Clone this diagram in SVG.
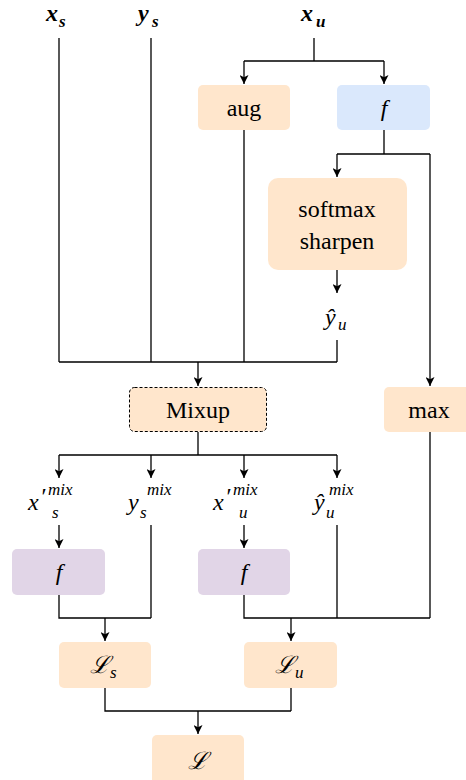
<svg xmlns="http://www.w3.org/2000/svg" width="466" height="780" viewBox="0 0 466 780">
<style>
.bx{stroke:none}
.o{fill:#ffe6cc}
.b{fill:#dae8fc}
.p{fill:#e1d5e7}
.d{stroke:#000;stroke-width:1;stroke-dasharray:3 2}
.c{text-anchor:middle}
.i{font-style:italic}
.bi{font-style:italic;font-weight:bold}
.sm{font-size:17px}
.e{stroke:#000;stroke-width:1.3;fill:none}
.a{marker-end:url(#ah)}
</style>
<defs>
<marker id="ah" viewBox="0 0 10 10" refX="10" refY="5" markerWidth="9" markerHeight="9" markerUnits="userSpaceOnUse" orient="auto">
<path d="M0 0 L10 5 L0 10 L2.5 5 Z" fill="#000"/>
</marker>
</defs>
<g id="connectors">
<path class="e" d="M59 38 V362 M151 38 V362 M244 130 V362 M337 340 V362 M59 362 H337"/>
<path class="e a" d="M198 362 V386"/>
<path class="e" d="M314 38 V61 M244 61 H384"/>
<path class="e a" d="M244 61 V84"/>
<path class="e a" d="M384 61 V84"/>
<path class="e" d="M384 130 V154 M337 154 H430"/>
<path class="e a" d="M337 154 V177"/>
<path class="e a" d="M430 154 V386"/>
<path class="e a" d="M337 270 V293"/>
<path class="e" d="M198 432 V455 M59 455 H337"/>
<path class="e a" d="M59 455 V478"/>
<path class="e a" d="M151 455 V478"/>
<path class="e a" d="M244 455 V478"/>
<path class="e a" d="M337 455 V478"/>
<path class="e a" d="M59 525 V548"/>
<path class="e a" d="M244 525 V548"/>
<path class="e" d="M151 525 V618 M59 595 V618 H151"/>
<path class="e a" d="M105 618 V641"/>
<path class="e" d="M244 595 V618 H430 M337 525 V618 M430 432 V618"/>
<path class="e a" d="M291 618 V641"/>
<path class="e" d="M105 688 V711 H291 M291 688 V711"/>
<path class="e a" d="M198 711 V734"/>
</g>
<g font-family="Liberation Serif, Times New Roman, DejaVu Serif, serif" font-size="24" fill="#000">
<g id="in-xs"><text class="bi" x="46" y="21">x</text><text class="bi sm" x="59" y="27">s</text></g>
<g id="in-ys"><text class="bi" x="138" y="21">y</text><text class="bi sm" x="152" y="27">s</text></g>
<g id="in-xu"><text class="bi" x="301" y="21">x</text><text class="bi sm" x="316" y="27">u</text></g>
<g id="aug"><rect class="bx o" x="198" y="85" width="92" height="45" rx="5"/><text class="c" x="244" y="116">aug</text></g>
<g id="f-top"><rect class="bx b" x="337" y="85" width="93" height="45" rx="5"/><text class="c i" x="384" y="116">f</text></g>
<g id="softmax"><rect class="bx o" x="268" y="178" width="139" height="92" rx="10"/><text class="c" x="337" y="217">softmax</text><text class="c" x="337" y="249">sharpen</text></g>
<g id="yhat-u"><text class="i" x="325" y="325">ŷ</text><text class="i sm" x="338" y="330">u</text></g>
<g id="mixup"><rect class="o d" x="129.5" y="387.5" width="137" height="44" rx="5"/><text class="c" x="198" y="418">Mixup</text></g>
<g id="max"><rect class="bx o" x="384" y="387" width="90" height="45" rx="5"/><text class="c" x="429" y="418">max</text></g>
<g id="xs-mix"><text class="i" x="28" y="510">x</text><text class="i" x="40" y="504">′</text><text class="i sm" x="48" y="495">mix</text><text class="i sm" x="52" y="518">s</text></g>
<g id="ys-mix"><text class="i" x="128" y="510">y</text><text class="i sm" x="147" y="495">mix</text><text class="i sm" x="140" y="518">s</text></g>
<g id="xu-mix"><text class="i" x="213" y="510">x</text><text class="i" x="225" y="504">′</text><text class="i sm" x="233" y="495">mix</text><text class="i sm" x="239" y="518">u</text></g>
<g id="yhu-mix"><text class="i" x="314" y="510">ŷ</text><text class="i sm" x="329" y="495">mix</text><text class="i sm" x="326" y="518">u</text></g>
<g id="f-s"><rect class="bx p" x="12" y="549" width="93" height="46" rx="5"/><text class="c i" x="59" y="580">f</text></g>
<g id="f-u"><rect class="bx p" x="198" y="549" width="92" height="46" rx="5"/><text class="c i" x="244" y="580">f</text></g>
<g id="Ls"><rect class="bx o" x="59" y="642" width="92" height="46" rx="5"/><text class="i" x="90" y="673">ℒ</text><text class="i sm" x="110" y="678">s</text></g>
<g id="Lu"><rect class="bx o" x="244" y="642" width="93" height="46" rx="5"/><text class="i" x="275" y="673">ℒ</text><text class="i sm" x="295" y="678">u</text></g>
<g id="L"><rect class="bx o" x="152" y="735" width="92" height="50" rx="5"/><text class="c i" x="198" y="769">ℒ</text></g>
</g>
</svg>
